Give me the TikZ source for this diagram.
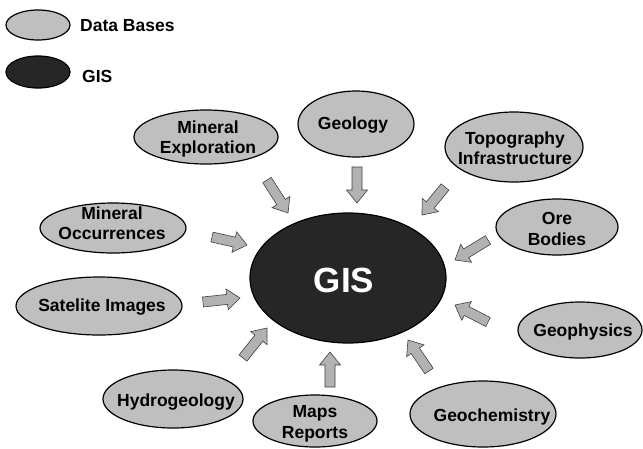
\documentclass[tikz,border=0pt]{standalone}
\usepackage{fontspec}
\setmainfont{Liberation Sans}
\usetikzlibrary{shapes.geometric,calc}
\tikzset{
  db/.style={ellipse, draw=black, line width=1.2pt, fill=gray!50, inner sep=0pt},
  gisbox/.style={ellipse, draw=black, line width=1.2pt, fill=black!85, inner sep=0pt},
  lbl/.style={align=center, inner sep=0pt, font=\bfseries\fontsize{17.5}{20.5}\selectfont},
  arr/.style={draw=black!75, line width=0.6pt, fill=gray!60, line join=miter},
}
\newcommand\blockarrow[3]{%
  \coordinate (#3n) at ($(#2)!13pt!(#1)$);
  \path[arr] ($(#1)!5pt!90:(#2)$) -- ($(#3n)!5pt!-90:(#1)$) -- ($(#3n)!10.5pt!-90:(#1)$)
    -- (#2) -- ($(#3n)!10.5pt!90:(#1)$) -- ($(#3n)!5pt!90:(#1)$) -- ($(#1)!5pt!-90:(#2)$) -- cycle;
}
\begin{document}
\begin{tikzpicture}[x=1pt,y=-1pt]
\useasboundingbox (0,0) rectangle (643,448);
% legend
\node[db, minimum width=64pt, minimum height=30pt] (legdb) at (38,25) {};
\node[lbl, anchor=west] (legdbT) at (80,25.5) {Data Bases};
\node[gisbox, minimum width=64pt, minimum height=32pt] (leggis) at (38,72) {};
\node[lbl, anchor=west] (leggisT) at (82,76.5) {GIS};
% central
\node[gisbox, minimum width=196pt, minimum height=130pt] (gis) at (348,278) {};
\node[inner sep=0pt, text=white, font=\bfseries\fontsize{35}{40}\selectfont] (gisT) at (344,280) {GIS};
% data bases
\node[db, minimum width=144pt, minimum height=54pt] (mexp) at (206,137) {};
\node[lbl] (mexpT) at (208,139) {Mineral\\Exploration};
\node[db, minimum width=116pt, minimum height=66pt] (geol) at (356,124) {};
\node[lbl] (geolT) at (353,125) {Geology};
\node[db, minimum width=138pt, minimum height=70pt] (topo) at (514,147) {};
\node[lbl] (topoT) at (515,148) {Topography\\Infrastructure};
\node[db, minimum width=122pt, minimum height=56pt] (ore) at (557,227) {};
\node[lbl] (oreT) at (557,229) {Ore\\Bodies};
\node[db, minimum width=124pt, minimum height=56pt] (geoph) at (580,330) {};
\node[lbl] (geophT) at (583,332) {Geophysics};
\node[db, minimum width=146pt, minimum height=66pt] (geoch) at (483,414) {};
\node[lbl] (geochT) at (492,417) {Geochemistry};
\node[db, minimum width=124pt, minimum height=52pt] (maps) at (315,421) {};
\node[lbl] (mapsT) at (315,424) {Maps\\Reports};
\node[db, minimum width=140pt, minimum height=58pt] (hydro) at (173,399) {};
\node[lbl] (hydroT) at (176,402) {Hydrogeology};
\node[db, minimum width=166pt, minimum height=58pt] (sat) at (99,306) {};
\node[lbl] (satT) at (102,307) {Satelite Images};
\node[db, minimum width=146pt, minimum height=50pt] (mocc) at (113,228) {};
\node[lbl] (moccT) at (112,223) {Mineral\\Occurrences};
% arrows
\coordinate (a1t) at (267,180); \coordinate (a1h) at (288,213);
\coordinate (a2t) at (357,167); \coordinate (a2h) at (357,203);
\coordinate (a3t) at (445,187); \coordinate (a3h) at (422,215);
\coordinate (a4t) at (488,240); \coordinate (a4h) at (455,260);
\coordinate (a5t) at (488,322); \coordinate (a5h) at (455,305);
\coordinate (a6t) at (429,371); \coordinate (a6h) at (408,340);
\coordinate (a7t) at (330,387); \coordinate (a7h) at (330,352);
\coordinate (a8t) at (243,358); \coordinate (a8h) at (267,328);
\coordinate (a9t) at (203,302); \coordinate (a9h) at (240,298);
\coordinate (a10t) at (212,237); \coordinate (a10h) at (247,245);
\blockarrow{a1t}{a1h}{a1}
\blockarrow{a2t}{a2h}{a2}
\blockarrow{a3t}{a3h}{a3}
\blockarrow{a4t}{a4h}{a4}
\blockarrow{a5t}{a5h}{a5}
\blockarrow{a6t}{a6h}{a6}
\blockarrow{a7t}{a7h}{a7}
\blockarrow{a8t}{a8h}{a8}
\blockarrow{a9t}{a9h}{a9}
\blockarrow{a10t}{a10h}{a10}
\end{tikzpicture}
\end{document}
